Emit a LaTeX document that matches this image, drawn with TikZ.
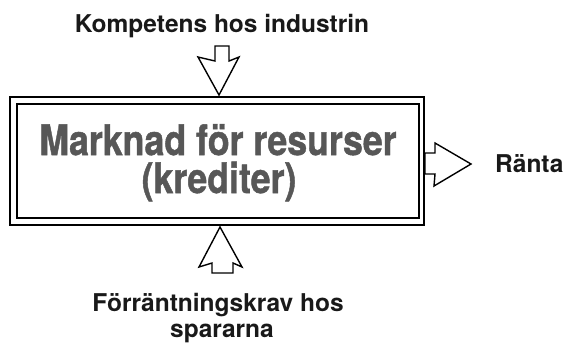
\documentclass[tikz,border=0pt]{standalone}
\usepackage{fontspec}
\usepackage{graphicx}
\setmainfont{TeX Gyre Heros}
\newfontfamily\heavyheros[FakeBold=1.2]{TeX Gyre Heros}
\begin{document}
\begin{tikzpicture}[x=1pt,y=-1pt,
  boxline/.style={draw=black,line width=1.6pt},
  blockarrow/.style={draw=black,line width=1.4pt,line join=miter,fill=white},
  lab/.style={font=\fontsize{24.5}{28}\selectfont\bfseries,text=black!90,inner sep=0pt,anchor=base},
  big/.style={font=\heavyheros\fontsize{42}{46}\selectfont\bfseries,text=black!66,inner sep=0pt,anchor=base}]
\useasboundingbox (0,0) rectangle (564,346);
% box
\draw[boxline] (10,97) rectangle (424,225);
\draw[boxline] (17,104) rectangle (419,218);
\node[big] (t1) at (218,155) {\scalebox{0.85}[1]{Marknad för resurser}};
\node[big] (t2) at (219,193) {\scalebox{0.85}[1]{(krediter)}};
% labels
\node[lab] (top) at (222,32) {Kompetens hos industrin};
\node[lab,anchor=base west] (r) at (495,172) {Ränta};
\node[lab] (b1) at (218,311) {Förräntningskrav hos};
\node[lab] (b2) at (222,337) {spararna};
% top arrow
\draw[blockarrow] (215,46) -- (229,46) -- (229,61) -- (239,57) -- (219,95) -- (198,57) -- (215,61) -- cycle;
% bottom arrow
\draw[blockarrow] (220,227) -- (242,267) -- (233,263) -- (233,273) -- (212,273) -- (212,263) -- (199,267) -- cycle;
% right arrow
\draw[blockarrow] (425,153) -- (435,153) -- (435,143) -- (471,164) -- (434,186) -- (435,174) -- (425,174) -- cycle;
\end{tikzpicture}
\end{document}
